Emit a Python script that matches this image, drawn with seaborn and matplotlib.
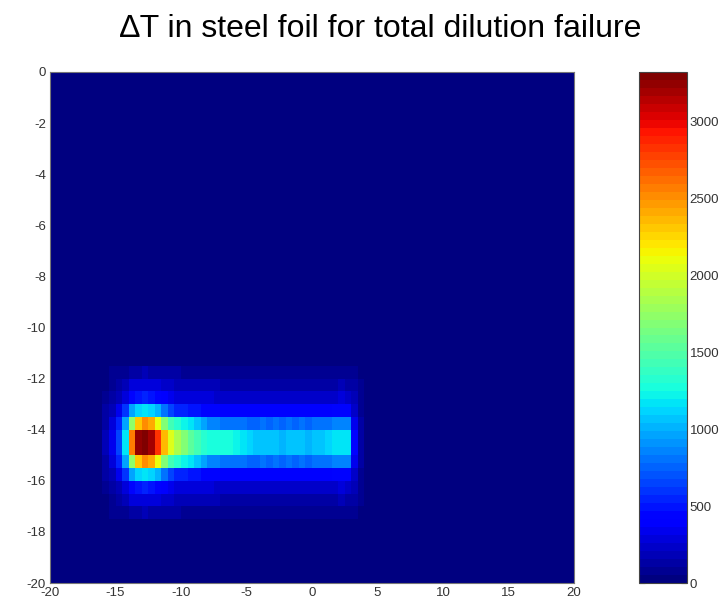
import numpy as np
import matplotlib
matplotlib.use("Agg")
import matplotlib.pyplot as plt
import seaborn as sns

sns.set_style("white")
plt.rcParams["font.family"] = ["Liberation Sans", "DejaVu Sans"]

# Foil grid: 0.5 cm cells, x from -20 to 20, y from 0 down to -20
cell = 0.5
x_ticks = [-20, -15, -10, -5, 0, 5, 10, 15, 20]
y_ticks = [0, -2, -4, -6, -8, -10, -12, -14, -16, -18, -20]
cbar_ticks = [0, 500, 1000, 1500, 2000, 2500, 3000]
t_min, t_max = 0, 3320

background = 40
# Band profiles start at x = -16 and run in 0.5 steps up to x = 3.5
band_x0 = -16.0
center_row = [180, 330, 650, 1150, 2550, 3250, 3320, 3200, 2850, 2350,
              2050, 1850, 1700, 1550, 1420, 1330, 1290, 1270, 1260, 1250,
              1230, 1180, 1120, 1080, 1060, 1040, 1060, 1030, 1050, 1040,
              1060, 1030, 1050, 1080, 1120, 1170, 1190, 1150, 420, 140]
inner_row = [140, 280, 520, 950, 1750, 2300, 2500, 2400, 2100, 1700,
             1450, 1300, 1230, 1150, 1050, 950, 880, 840, 820, 800,
             790, 780, 770, 770, 780, 760, 790, 770, 780, 770,
             790, 770, 780, 800, 820, 840, 860, 830, 350, 120]
outer_row = [110, 190, 330, 620, 950, 1100, 1150, 1100, 1000, 800,
             650, 560, 520, 490, 470, 450, 430, 420, 410, 400,
             395, 390, 385, 385, 390, 385, 390, 385, 390, 385,
             390, 385, 390, 400, 410, 420, 430, 420, 230, 90]
halo_row = [70, 110, 190, 310, 430, 500, 520, 500, 450, 390,
            340, 310, 290, 280, 270, 265, 260, 255, 250, 250,
            245, 245, 240, 240, 240, 240, 240, 240, 240, 240,
            240, 240, 240, 245, 250, 255, 260, 250, 170, 80]
far_row = [50, 80, 120, 190, 260, 300, 310, 300, 270, 240,
           210, 195, 185, 175, 170, 165, 160, 160, 155, 155,
           150, 150, 150, 150, 150, 150, 150, 150, 150, 150,
           150, 150, 150, 150, 155, 155, 160, 155, 110, 60]
fringe_row = [40, 55, 70, 100, 130, 150, 160, 150, 140, 125,
              115, 105, 100, 95, 90, 90, 85, 85, 85, 80,
              80, 80, 80, 80, 80, 80, 80, 80, 80, 80,
              80, 80, 80, 80, 80, 80, 85, 80, 65, 50]

# Row placement (top edge of each cell row, in cm)
band_rows = {
    -11.5: fringe_row, -12.0: far_row, -12.5: halo_row, -13.0: outer_row,
    -13.5: inner_row, -14.0: center_row, -14.5: center_row,
    -15.0: inner_row, -15.5: outer_row, -16.0: halo_row,
    -16.5: far_row, -17.0: fringe_row,
}

n_cols = int(40 / cell)
n_rows = int(20 / cell)
dT = np.full((n_rows, n_cols), float(background))
c0 = int((band_x0 + 20) / cell)
for y_top, profile in band_rows.items():
    r = int(round(-y_top / cell))
    dT[r, c0:c0 + len(profile)] = profile

fig = plt.figure(figsize=(7.26, 6.06), dpi=100)
ax = fig.add_axes([50 / 726, 23 / 606, 524 / 726, 511 / 606])
cax = fig.add_axes([639 / 726, 23 / 606, 48 / 726, 511 / 606])

sns.heatmap(dT, ax=ax, cbar_ax=cax, cmap=plt.get_cmap("jet", 64),
            vmin=t_min, vmax=t_max, xticklabels=False, yticklabels=False)

ax.set_xticks([(v + 20) / cell for v in x_ticks])
ax.set_xticklabels([str(v) for v in x_ticks])
ax.set_yticks([-v / cell for v in y_ticks])
ax.set_yticklabels([str(v) for v in y_ticks], rotation=0)
ax.tick_params(direction="in", length=4, labelsize=9.5, colors="#333333",
               pad=3)
for s in ax.spines.values():
    s.set_visible(True)
    s.set_color("#777777")
    s.set_linewidth(0.8)

cbar = ax.collections[0].colorbar
cbar.set_ticks(cbar_ticks)
cbar.set_ticklabels([str(v) for v in cbar_ticks])
cbar.outline.set_edgecolor("#444444")
cbar.outline.set_linewidth(0.8)
cax.tick_params(direction="in", left=True, right=True, length=4,
                labelsize=9.5, colors="#333333", pad=2)

fig.text(381 / 726, 1 - 29 / 606, "\u2206T in steel foil for total dilution failure",
         ha="center", va="center", fontsize=23, color="black")

fig.savefig("out.png", dpi=100)
